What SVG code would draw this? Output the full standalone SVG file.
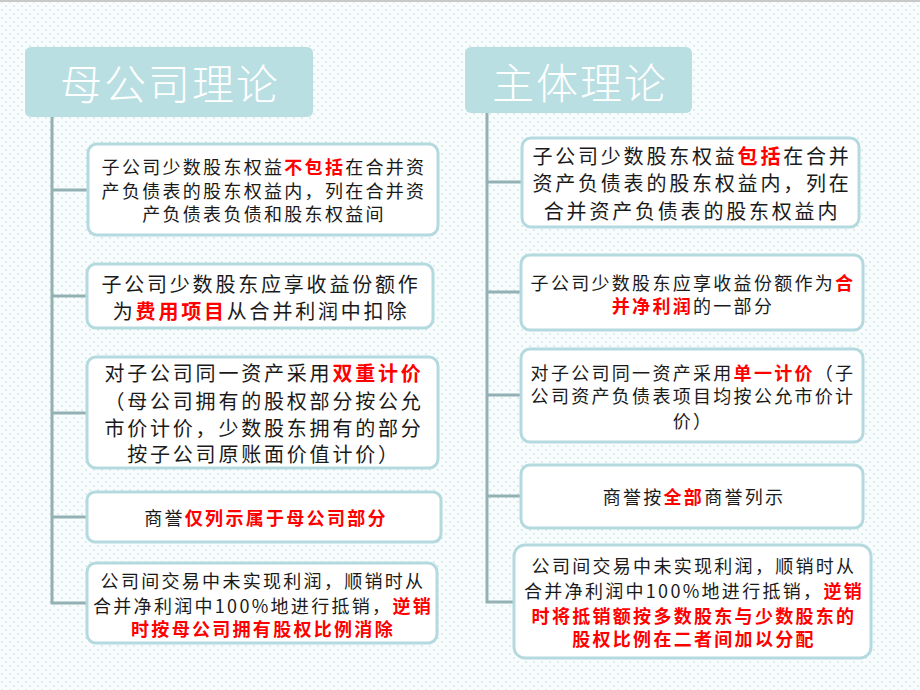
<svg xmlns="http://www.w3.org/2000/svg" width="920" height="690" viewBox="0 0 920 690">
<defs>
<pattern id="dots" width="8" height="8" patternUnits="userSpaceOnUse">
<rect width="8" height="8" fill="#f8fcfc"/>
<circle cx="2" cy="2" r="0.9" fill="#cde6e8"/>
<circle cx="6" cy="6" r="0.9" fill="#cde6e8"/>
</pattern>
<style>
.hdr{fill:#b9dfe3;}
.box{fill:#ffffff;stroke:#b4dadf;stroke-width:3;}
.conn{fill:none;stroke:#93b1b4;stroke-width:3;}
.ht{font-family:"Noto Sans CJK SC",sans-serif;font-size:42px;font-weight:300;fill:#ffffff;text-anchor:middle;dominant-baseline:central;letter-spacing:2px;}
.t{font-family:"Noto Sans CJK SC",sans-serif;fill:#1a1a1a;text-anchor:middle;dominant-baseline:central;}
.s{font-size:18px;letter-spacing:2.3px;}
.b{font-size:20px;letter-spacing:2.8px;}
.r{fill:#ff0000;font-weight:bold;}
</style>
</defs>
<rect width="920" height="690" fill="url(#dots)"/>
<rect width="920" height="2" fill="#c8c8c8"/>

<g id="connectors">
<path class="conn" d="M52 117 V603 H87 M52 190 H88 M52 296 H87 M52 413 H87 M52 517 H87"/>
<path class="conn" d="M487 113 V602 H514 M487 182 H522 M487 292 H521 M487 395 H521 M487 496 H521"/>
</g>

<g id="left-header">
<rect class="hdr" x="25" y="47" width="288" height="70" rx="6"/>
<text class="ht" x="170" y="81">母公司理论</text>
</g>
<g id="right-header">
<rect class="hdr" x="465" y="47" width="227" height="66" rx="6"/>
<text class="ht" x="580" y="80">主体理论</text>
</g>

<g id="left-1">
<rect class="box" x="88" y="144" width="350" height="91" rx="9"/>
<text class="t s" x="264" y="166">子公司少数股东权益<tspan class="r">不包括</tspan>在合并资</text>
<text class="t s" x="264" y="190">产负债表的股东权益内，列在合并资</text>
<text class="t s" x="264" y="213">产负债表负债和股东权益间</text>
</g>
<g id="left-2">
<rect class="box" x="87" y="264" width="346" height="64" rx="9"/>
<text class="t b" x="261" y="283">子公司少数股东应享收益份额作</text>
<text class="t b" x="261" y="310">为<tspan class="r">费用项目</tspan>从合并利润中扣除</text>
</g>
<g id="left-3">
<rect class="box" x="87" y="357" width="351" height="111" rx="9"/>
<text class="t b" x="264" y="372">对子公司同一资产采用<tspan class="r">双重计价</tspan></text>
<text class="t b" x="264" y="400">（母公司拥有的股权部分按公允</text>
<text class="t b" x="264" y="427">市价计价，少数股东拥有的部分</text>
<text class="t b" x="264" y="453">按子公司原账面价值计价）</text>
</g>
<g id="left-4">
<rect class="box" x="87" y="492" width="354" height="50" rx="8"/>
<text class="t s" x="266" y="517">商誉<tspan class="r">仅列示属于母公司部分</tspan></text>
</g>
<g id="left-5">
<rect class="box" x="87" y="563" width="350" height="80" rx="9"/>
<text class="t s" x="263" y="580">公司间交易中未实现利润，顺销时从</text>
<text class="t s" x="263" y="605">合并净利润中100%地进行抵销，<tspan class="r">逆销</tspan></text>
<text class="t s r" x="263" y="628">时按母公司拥有股权比例消除</text>
</g>

<g id="right-1">
<rect class="box" x="522" y="138" width="337" height="89" rx="9"/>
<text class="t b" x="692" y="155">子公司少数股东权益<tspan class="r">包括</tspan>在合并</text>
<text class="t b" x="692" y="182">资产负债表的股东权益内，列在</text>
<text class="t b" x="692" y="210">合并资产负债表的股东权益内</text>
</g>
<g id="right-2">
<rect class="box" x="521" y="255" width="342" height="75" rx="9"/>
<text class="t s" x="693" y="282">子公司少数股东应享收益份额作为<tspan class="r">合</tspan></text>
<text class="t s" x="693" y="305"><tspan class="r">并净利润</tspan>的一部分</text>
</g>
<g id="right-3">
<rect class="box" x="521" y="349" width="342" height="93" rx="9"/>
<text class="t s" x="693" y="372">对子公司同一资产采用<tspan class="r">单一计价</tspan>（子</text>
<text class="t s" x="693" y="395">公司资产负债表项目均按公允市价计</text>
<text class="t s" x="693" y="420">价）</text>
</g>
<g id="right-4">
<rect class="box" x="521" y="465" width="342" height="63" rx="9"/>
<text class="t s" x="694" y="496">商誉按<tspan class="r">全部</tspan>商誉列示</text>
</g>
<g id="right-5">
<rect class="box" x="514" y="545" width="357" height="113" rx="11"/>
<text class="t s" x="694" y="565">公司间交易中未实现利润，顺销时从</text>
<text class="t s" x="694" y="590">合并净利润中100%地进行抵销，<tspan class="r">逆销</tspan></text>
<text class="t s r" x="694" y="615">时将抵销额按多数股东与少数股东的</text>
<text class="t s r" x="694" y="638">股权比例在二者间加以分配</text>
</g>
</svg>
